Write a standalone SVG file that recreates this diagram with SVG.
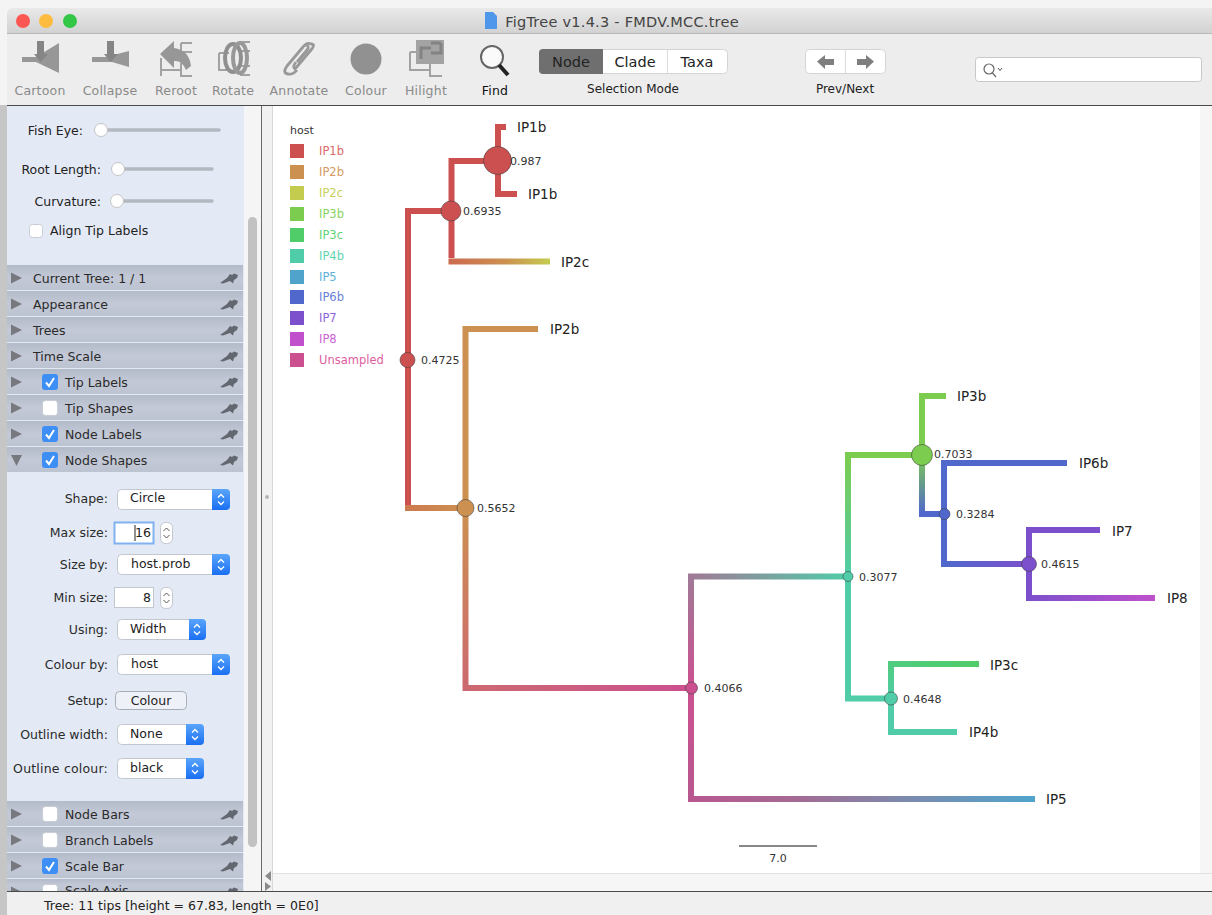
<svg xmlns="http://www.w3.org/2000/svg" width="1212" height="915" viewBox="0 0 1212 915">
<style>
text{font-family:"DejaVu Sans","Liberation Sans",sans-serif}
.tb{font-size:12.5px;fill:#8a8a8a;text-anchor:middle;letter-spacing:.2px}
.seg{font-size:14.5px;fill:#222;text-anchor:middle}
.sm{font-size:12px;fill:#222;text-anchor:middle}
.lab{font-size:12.5px;fill:#2a2a2a;text-anchor:end}
.val{font-size:12.5px;fill:#222}
.hd{font-size:12.5px;fill:#2a2a2a}
.tip{font-size:13.5px;fill:#222}
.nl{font-size:11px;fill:#333}
.leg{font-size:11.5px}
.b{fill:none;stroke-width:6;stroke-linejoin:miter;stroke-linecap:butt}
.n{stroke:#3c3c3c;stroke-opacity:.55;stroke-width:1}
.ic{fill:#979797}
.icl{fill:none;stroke:#a2a2a2;stroke-width:2}
.pop{fill:#fff;stroke:#c2c6ce;stroke-width:1}
.cap{fill:url(#blue)}
.tri{fill:#77797f}
.pin{fill:#63676f}
.cb{fill:#fff;stroke:#c8ccd4}
.cbon{fill:#3d8ef5}
.ck{fill:none;stroke:#fff;stroke-width:2}
.chev{fill:none;stroke:#fff;stroke-width:1.3}
.chevd{fill:none;stroke:#555;stroke-width:1}
.track{stroke:#b4b8c0;stroke-width:3.5;stroke-linecap:round}
.thumb{fill:#fff;stroke:#c4c4c4}
</style>
<defs>
<linearGradient id="title" x1="0" y1="0" x2="0" y2="1"><stop offset="0" stop-color="#e9e9e9"/><stop offset="1" stop-color="#d2d2d2"/></linearGradient>
<linearGradient id="hdr" x1="0" y1="0" x2="0" y2="1"><stop offset="0" stop-color="#b3bac9"/><stop offset=".5" stop-color="#c3c9d6"/><stop offset="1" stop-color="#bcc3d1"/></linearGradient>
<linearGradient id="blue" x1="0" y1="0" x2="0" y2="1"><stop offset="0" stop-color="#5aa5fb"/><stop offset="1" stop-color="#1a6ff2"/></linearGradient>
<linearGradient id="g2c" gradientUnits="userSpaceOnUse" x1="449" y1="0" x2="550" y2="0"><stop offset="0" stop-color="#cc6a50"/><stop offset=".55" stop-color="#cc9050"/><stop offset="1" stop-color="#c4cc50"/></linearGradient>
<linearGradient id="gAh" gradientUnits="userSpaceOnUse" x1="405" y1="0" x2="465" y2="0"><stop offset="0" stop-color="#cc7a50"/><stop offset="1" stop-color="#cc9050"/></linearGradient>
<linearGradient id="gOv" gradientUnits="userSpaceOnUse" x1="0" y1="508" x2="0" y2="688"><stop offset="0" stop-color="#cc9050"/><stop offset="1" stop-color="#cc6a70"/></linearGradient>
<linearGradient id="gOh" gradientUnits="userSpaceOnUse" x1="463" y1="0" x2="691" y2="0"><stop offset="0" stop-color="#cc6a70"/><stop offset="1" stop-color="#cc5090"/></linearGradient>
<linearGradient id="gUv" gradientUnits="userSpaceOnUse" x1="0" y1="688" x2="0" y2="576"><stop offset="0" stop-color="#cc5090"/><stop offset="1" stop-color="#a07a96"/></linearGradient>
<linearGradient id="gUh" gradientUnits="userSpaceOnUse" x1="691" y1="0" x2="848" y2="0"><stop offset="0" stop-color="#a07a96"/><stop offset="1" stop-color="#50cca8"/></linearGradient>
<linearGradient id="g5v" gradientUnits="userSpaceOnUse" x1="0" y1="688" x2="0" y2="799"><stop offset="0" stop-color="#cc5090"/><stop offset="1" stop-color="#b8588f"/></linearGradient>
<linearGradient id="g5h" gradientUnits="userSpaceOnUse" x1="691" y1="0" x2="1035" y2="0"><stop offset="0" stop-color="#b8588f"/><stop offset=".3" stop-color="#a56a93"/><stop offset=".6" stop-color="#7f88ab"/><stop offset="1" stop-color="#50a4cc"/></linearGradient>
<linearGradient id="gTv" gradientUnits="userSpaceOnUse" x1="0" y1="576" x2="0" y2="455"><stop offset="0" stop-color="#50cca8"/><stop offset="1" stop-color="#7ccc50"/></linearGradient>
<linearGradient id="gGv" gradientUnits="userSpaceOnUse" x1="0" y1="455" x2="0" y2="514"><stop offset="0" stop-color="#7ccc50"/><stop offset="1" stop-color="#5068cc"/></linearGradient>
<linearGradient id="gBh" gradientUnits="userSpaceOnUse" x1="944" y1="0" x2="1029" y2="0"><stop offset="0" stop-color="#5068cc"/><stop offset="1" stop-color="#7c50cc"/></linearGradient>
<linearGradient id="g8h" gradientUnits="userSpaceOnUse" x1="1029" y1="0" x2="1155" y2="0"><stop offset="0" stop-color="#7c50cc"/><stop offset="1" stop-color="#c050cc"/></linearGradient>
<linearGradient id="g3c" gradientUnits="userSpaceOnUse" x1="0" y1="698" x2="0" y2="664"><stop offset="0" stop-color="#50cca8"/><stop offset="1" stop-color="#50cc80"/></linearGradient>
<linearGradient id="g3ch" gradientUnits="userSpaceOnUse" x1="891" y1="0" x2="979" y2="0"><stop offset="0" stop-color="#50cc80"/><stop offset="1" stop-color="#50cc68"/></linearGradient>
<path id="pin" class="pin" d="M0 5 L7 0 L10 -4 L12 -3 L14 -4.500 L18 -3 L17 0 L14 2 L13 5.500 L10 3 L3 5.500Z"/>
<path id="chev" class="chev" d="M-3 -2 L0 -5 L3 -2 M-3 2 L0 5 L3 2"/>
<path id="chevd" class="chevd" d="M-3 -2 L0 -5 L3 -2 M-3 2 L0 5 L3 2"/>
<path id="right" class="tri" d="M0 -5.500 L11 0 L0 5.500Z"/>
<path id="check" class="ck" d="M-4 0.500 L-1 4 L4 -4"/>
</defs>

<g id="window">
<rect width="1212" height="915" fill="#f4f4f4"/>
<rect x="0" y="105" width="7" height="810" fill="#c6c6c6"/>
<path d="M7 33 V14 Q7 8 13 8 H1212 V33Z" fill="url(#title)"/>
<rect x="7" y="33" width="1205" height="72" fill="#ededed"/>
<line x1="7" y1="33.500" x2="1212" y2="33.500" stroke="#b8b8b8"/>
<rect x="7" y="106" width="237" height="785" fill="#e4eaf5"/>
<rect x="244" y="106" width="17" height="785" fill="#f5f5f5"/>
<rect x="262" y="106" width="11" height="785" fill="#f1f1f1"/>
<rect x="273" y="106" width="927" height="767" fill="#fff"/>
<rect x="1200" y="106" width="12" height="785" fill="#f6f6f6"/>
<rect x="273" y="874" width="939" height="17" fill="#f6f6f6"/>
<line x1="273" y1="873.500" x2="1212" y2="873.500" stroke="#e2e2e2"/>
<line x1="7" y1="105.500" x2="1212" y2="105.500" stroke="#4a4a4a"/>
<line x1="261.500" y1="106" x2="261.500" y2="891" stroke="#6a6a6a"/>
<line x1="272.500" y1="106" x2="272.500" y2="891" stroke="#d8d8d8"/>
<rect x="248" y="217" width="9" height="630" rx="4.500" fill="#c2c2c2"/>
<circle cx="267" cy="497" r="2" fill="#b5b5b5"/>
<path d="M271 871 L265 876 L271 881Z M265 882 L271 886.500 L265 891Z" fill="#8a8a8a"/>
<rect x="7" y="892" width="1205" height="23" fill="#f0f0f0"/>
<line x1="7" y1="891.500" x2="1212" y2="891.500" stroke="#4a4a4a"/>
</g>

<g id="titlebar">
<circle cx="23" cy="21" r="7" fill="#fc5753"/>
<circle cx="46" cy="21" r="7" fill="#fdbc40"/>
<circle cx="70" cy="21" r="7" fill="#33c748"/>
<path d="M485 12 H493 L497 16 V29 H485Z" fill="#4f97ea"/>
<text x="622" y="27" font-size="14.500" fill="#444" text-anchor="middle" letter-spacing=".25">FigTree v1.4.3 - FMDV.MCC.tree</text>
</g>

<g id="toolbar">
<g id="btn-cartoon"><path class="ic" d="M22 57 H36 L59 43 V73 L36 62 H22 Z"/><path class="ic" style="fill:#858585" d="M37 41 H44 V54 H48 L40.500 62 L34 54 H37Z"/><text class="tb" x="40" y="95">Cartoon</text></g>
<g id="btn-collapse"><path class="ic" d="M92 57 H106 L129 51 V67 L112 62 H92 Z"/><path class="ic" style="fill:#858585" d="M107 41 H114 V54 H118 L110.500 62 L104 54 H107Z"/><text class="tb" x="110" y="95">Collapse</text></g>
<g id="btn-reroot"><path class="icl" d="M161 76 V58 M161 70 H181 M181 63 V76 H192 M181 43 H192 M181 43 V52 H192"/><path class="ic" d="M160 54 L174 41 V48 Q189 50 191 66 L186 70 Q182 60 174 61 V68Z"/><text class="tb" x="176" y="95">Reroot</text></g>
<g id="btn-rotate"><path class="icl" d="M219 53 V70 H231 M219 53 H229 M240 42 H250 M240 51 H250 M240 75 H250 M240 66 H250"/><ellipse cx="233" cy="58" rx="8" ry="14" fill="none" stroke="#8f8f8f" stroke-width="4"/><ellipse cx="240" cy="58" rx="7" ry="15" fill="none" stroke="#989898" stroke-width="4"/><text class="tb" x="233" y="95">Rotate</text></g>
<g id="btn-annotate"><path d="M297 62 L307 50 Q310 46 306 45 M296 62 Q292 67 295 69 L311 50 Q316 44 311 44 Q307 42 303 47 L287 66 Q282 73 288 74 Q293 75 297 70" fill="none" stroke="#999" stroke-width="2.800" stroke-linejoin="round"/><text class="tb" x="299" y="95">Annotate</text></g>
<g id="btn-colour"><circle cx="366" cy="59" r="15.500" fill="#919191"/><text class="tb" x="366" y="95">Colour</text></g>
<g id="btn-hilight"><path class="icl" d="M410 52 V70 H430 M430 64 V76 H442 M420 52 H410"/><rect x="416" y="40" width="28" height="24" fill="#a3a3a3"/><path d="M421 59 V48 H431 M431 43 H441 M431 53 H441 V43" fill="none" stroke="#838383" stroke-width="3"/><text class="tb" x="426" y="95">Hilight</text></g>
<g id="btn-find"><circle cx="492" cy="57" r="11" fill="#fafafa" stroke="#666" stroke-width="2"/><path d="M499 65 L508 75" stroke="#222" stroke-width="4"/><text class="tb" x="495" y="95" style="fill:#111">Find</text></g>
<g id="selection-mode">
<rect x="539.500" y="49.500" width="188" height="24" rx="4" fill="#fff" stroke="#d4d4d4"/>
<path d="M543 49 H603 V74 H543 Q539 74 539 70 V53 Q539 49 543 49Z" fill="#6f6f6f"/>
<line x1="667.500" y1="50" x2="667.500" y2="73" stroke="#dcdcdc"/>
<text class="seg" x="571" y="67">Node</text><text class="seg" x="635" y="67">Clade</text><text class="seg" x="697" y="67">Taxa</text>
<text class="sm" x="633" y="93">Selection Mode</text>
</g>
<g id="prev-next">
<rect x="805.500" y="49.500" width="80" height="24" rx="4" fill="#fff" stroke="#d4d4d4"/>
<line x1="845.500" y1="50" x2="845.500" y2="73" stroke="#dcdcdc"/>
<path d="M817 61.500 L825 55 V59 H834 V65 H825 V69Z M874 61.500 L866 55 V59 H857 V65 H866 V69Z" fill="#7f7f7f"/>
<text class="sm" x="845" y="93">Prev/Next</text>
</g>
<g id="search">
<rect x="975.500" y="57.500" width="226" height="24" rx="3" fill="#fff" stroke="#c8c8c8"/>
<circle cx="989" cy="69" r="5" fill="none" stroke="#666" stroke-width="1.200"/><path d="M992.500 73 L996 77" stroke="#666" stroke-width="1.200"/><path d="M998 68 L1000 70.500 L1002 68" class="chevd"/>
</g>
</g>

<g id="panel">
<g id="sliders">
<text class="val" x="83" y="135" text-anchor="end">Fish Eye:</text>
<line class="track" x1="100" y1="130" x2="219" y2="130"/><circle class="thumb" cx="101" cy="130" r="6.500"/>
<text class="val" x="101" y="174" text-anchor="end">Root Length:</text>
<line class="track" x1="118" y1="169" x2="212" y2="169"/><circle class="thumb" cx="118" cy="169" r="6.500"/>
<text class="val" x="101" y="206" text-anchor="end">Curvature:</text>
<line class="track" x1="117" y1="201" x2="212" y2="201"/><circle class="thumb" cx="117" cy="201" r="6.500"/>
<rect class="cb" x="29.500" y="224.500" width="13" height="13" rx="3"/>
<text class="val" x="50" y="235">Align Tip Labels</text>
</g>
<g id="section-headers">
<rect x="7" y="265" width="236" height="25" fill="url(#hdr)"/><rect x="7" y="291" width="236" height="25" fill="url(#hdr)"/><rect x="7" y="317" width="236" height="25" fill="url(#hdr)"/><rect x="7" y="343" width="236" height="25" fill="url(#hdr)"/><rect x="7" y="369" width="236" height="25" fill="url(#hdr)"/><rect x="7" y="395" width="236" height="25" fill="url(#hdr)"/><rect x="7" y="421" width="236" height="25" fill="url(#hdr)"/><rect x="7" y="447" width="236" height="25" fill="url(#hdr)"/>
<rect x="7" y="801" width="236" height="25" fill="url(#hdr)"/><rect x="7" y="827" width="236" height="25" fill="url(#hdr)"/><rect x="7" y="853" width="236" height="25" fill="url(#hdr)"/><rect x="7" y="879" width="236" height="12" fill="url(#hdr)"/>
<g><use href="#right" x="11" y="278"/><use href="#right" x="11" y="304"/><use href="#right" x="11" y="330"/><use href="#right" x="11" y="356"/><use href="#right" x="11" y="382"/><use href="#right" x="11" y="408"/><use href="#right" x="11" y="434"/><path class="tri" d="M11 455 H22 L16.500 466Z"/><use href="#right" x="11" y="814"/><use href="#right" x="11" y="840"/><use href="#right" x="11" y="866"/></g>
<g><use href="#pin" x="220" y="278"/><use href="#pin" x="220" y="304"/><use href="#pin" x="220" y="330"/><use href="#pin" x="220" y="356"/><use href="#pin" x="220" y="382"/><use href="#pin" x="220" y="408"/><use href="#pin" x="220" y="434"/><use href="#pin" x="220" y="460"/><use href="#pin" x="220" y="814"/><use href="#pin" x="220" y="840"/><use href="#pin" x="220" y="866"/></g>
<text class="hd" x="33" y="283">Current Tree: 1 / 1</text>
<text class="hd" x="33" y="309">Appearance</text>
<text class="hd" x="33" y="335">Trees</text>
<text class="hd" x="33" y="361">Time Scale</text>
<rect class="cbon" x="42" y="374" width="16" height="16" rx="3"/><use href="#check" x="50" y="382"/><text class="hd" x="65" y="387">Tip Labels</text>
<rect class="cb" x="42.500" y="400.500" width="15" height="15" rx="3"/><text class="hd" x="65" y="413">Tip Shapes</text>
<rect class="cbon" x="42" y="426" width="16" height="16" rx="3"/><use href="#check" x="50" y="434"/><text class="hd" x="65" y="439">Node Labels</text>
<rect class="cbon" x="42" y="452" width="16" height="16" rx="3"/><use href="#check" x="50" y="460"/><text class="hd" x="65" y="465">Node Shapes</text>
<rect class="cb" x="42.500" y="806.500" width="15" height="15" rx="3"/><text class="hd" x="65" y="819">Node Bars</text>
<rect class="cb" x="42.500" y="832.500" width="15" height="15" rx="3"/><text class="hd" x="65" y="845">Branch Labels</text>
<rect class="cbon" x="42" y="858" width="16" height="16" rx="3"/><use href="#check" x="50" y="866"/><text class="hd" x="65" y="871">Scale Bar</text>
<svg x="0" y="879" width="244" height="12"><rect class="cb" x="42.500" y="5.500" width="15" height="15" rx="3"/><text class="hd" x="65" y="16">Scale Axis</text><use href="#right" x="11" y="13"/><use href="#pin" x="220" y="13"/></svg>
</g>
<g id="node-shape-form">
<text class="lab" x="108" y="503">Shape:</text>
<rect class="pop" x="117.500" y="489.500" width="112" height="20" rx="4"/><path class="cap" d="M212 489 H226 Q230 489 230 493 V506 Q230 510 226 510 H212Z"/><use href="#chev" x="221" y="499.500"/><text class="val" x="130" y="502">Circle</text>
<text class="lab" x="108" y="537">Max size:</text>
<rect x="114.500" y="522.500" width="39" height="21" fill="#fff" stroke="#7fb2ee" stroke-width="2"/><line x1="135" y1="525" x2="135" y2="541" stroke="#222"/><text class="val" x="151" y="537" text-anchor="end">16</text>
<rect class="pop" x="160.500" y="522.500" width="12" height="21" rx="5"/><use href="#chevd" x="166.500" y="533"/>
<text class="lab" x="108" y="569">Size by:</text>
<rect class="pop" x="117.500" y="554.500" width="112" height="20" rx="4"/><path class="cap" d="M212 554 H226 Q230 554 230 558 V571 Q230 575 226 575 H212Z"/><use href="#chev" x="221" y="564.500"/><text class="val" x="131" y="568">host.prob</text>
<text class="lab" x="108" y="602">Min size:</text>
<rect x="114.500" y="587.500" width="39" height="20" fill="#fff" stroke="#c2c6ce"/><text class="val" x="151" y="602" text-anchor="end">8</text>
<rect class="pop" x="160.500" y="587.500" width="12" height="21" rx="5"/><use href="#chevd" x="166.500" y="598"/>
<text class="lab" x="108" y="634">Using:</text>
<rect class="pop" x="117.500" y="619.500" width="88" height="20" rx="4"/><path class="cap" d="M189 619 H202 Q206 619 206 623 V636 Q206 640 202 640 H189Z"/><use href="#chev" x="197" y="629.500"/><text class="val" x="130" y="633">Width</text>
<text class="lab" x="108" y="669">Colour by:</text>
<rect class="pop" x="117.500" y="654.500" width="112" height="20" rx="4"/><path class="cap" d="M212 654 H226 Q230 654 230 658 V671 Q230 675 226 675 H212Z"/><use href="#chev" x="221" y="664.500"/><text class="val" x="131" y="668">host</text>
<text class="lab" x="108" y="705">Setup:</text>
<rect x="115.500" y="691.500" width="71" height="18" rx="4" fill="#eef1f7" stroke="#a9adb5"/><text class="val" x="151" y="705" text-anchor="middle">Colour</text>
<text class="lab" x="108" y="739">Outline width:</text>
<rect class="pop" x="117.500" y="724.500" width="86" height="20" rx="4"/><path class="cap" d="M186 724 H200 Q204 724 204 728 V741 Q204 745 200 745 H186Z"/><use href="#chev" x="195" y="734.500"/><text class="val" x="130" y="738">None</text>
<text class="lab" x="108" y="773" letter-spacing=".2">Outline colour:</text>
<rect class="pop" x="117.500" y="758.500" width="86" height="20" rx="4"/><path class="cap" d="M186 758 H200 Q204 758 204 762 V775 Q204 779 200 779 H186Z"/><use href="#chev" x="195" y="768.500"/><text class="val" x="130" y="772">black</text>
</g>
</g>

<text id="status" x="44" y="910" font-size="12.500" fill="#222">Tree: 11 tips [height = 67.83, length = 0E0]</text>

<g id="legend">
<text x="290" y="134" font-size="11" fill="#333">host</text>
<rect x="290" y="144" width="14" height="14" fill="#cc5050"/><text class="leg" x="319" y="155" fill="#d96a6a">IP1b</text>
<rect x="290" y="165" width="14" height="14" fill="#cc9050"/><text class="leg" x="319" y="176" fill="#d49a62">IP2b</text>
<rect x="290" y="186" width="14" height="14" fill="#c4cc50"/><text class="leg" x="319" y="197" fill="#c8d060">IP2c</text>
<rect x="290" y="207" width="14" height="14" fill="#7ccc50"/><text class="leg" x="319" y="218" fill="#88d462">IP3b</text>
<rect x="290" y="228" width="14" height="14" fill="#50cc68"/><text class="leg" x="319" y="239" fill="#60d478">IP3c</text>
<rect x="290" y="249" width="14" height="14" fill="#50cca8"/><text class="leg" x="319" y="260" fill="#60d4b0">IP4b</text>
<rect x="290" y="270" width="14" height="14" fill="#50a4cc"/><text class="leg" x="319" y="281" fill="#60b0d8">IP5</text>
<rect x="290" y="290" width="14" height="14" fill="#5068cc"/><text class="leg" x="319" y="301" fill="#6a80d8">IP6b</text>
<rect x="290" y="311" width="14" height="14" fill="#7c50cc"/><text class="leg" x="319" y="322" fill="#8c64d8">IP7</text>
<rect x="290" y="332" width="14" height="14" fill="#c050cc"/><text class="leg" x="319" y="343" fill="#c864d4">IP8</text>
<rect x="290" y="353" width="14" height="14" fill="#cc5090"/><text class="leg" x="319" y="364" fill="#dc60a0">Unsampled</text>
</g>

<g id="connectors">
<path class="b" stroke="#cc5050" d="M506 127 H498 V161 H451.500 V211 H408 V508"/>
<path class="b" stroke="#cc5050" d="M498 161 V194 H517"/>
<path class="b" stroke="#cc5050" d="M451.500 211 V258"/>
<path class="b" stroke="url(#g2c)" d="M448.500 261.500 H550"/>
<path class="b" stroke="url(#gAh)" d="M405 508 H465.500"/>
<path class="b" stroke="#cc9050" d="M538 329 H465.500 V508"/>
<path class="b" stroke="url(#gOv)" d="M465.500 508 V685"/>
<path class="b" stroke="url(#gOh)" d="M462.500 688 H691"/>
<path class="b" stroke="url(#gUv)" d="M691 688 V579"/>
<path class="b" stroke="url(#gUh)" d="M688 576.500 H848"/>
<path class="b" stroke="url(#g5v)" d="M691 688 V796"/>
<path class="b" stroke="url(#g5h)" d="M688 799 H1035"/>
<path class="b" stroke="url(#gTv)" d="M848 576.500 V458"/>
<path class="b" stroke="#7ccc50" d="M845 455 H922"/>
<path class="b" stroke="#50cca8" d="M848 576.500 V698.500 H891"/>
<path class="b" stroke="url(#g3c)" d="M891 698.500 V667"/>
<path class="b" stroke="url(#g3ch)" d="M888 664 H979"/>
<path class="b" stroke="#50cca8" d="M891 698.500 V732 H957"/>
<path class="b" stroke="#7ccc50" d="M946 396 H922 V455"/>
<path class="b" stroke="url(#gGv)" d="M922 455 V511"/>
<path class="b" stroke="#5068cc" d="M919 514 H944"/>
<path class="b" stroke="#5068cc" d="M1067 463 H944 V561"/>
<path class="b" stroke="url(#gBh)" d="M941 564 H1029"/>
<path class="b" stroke="#7c50cc" d="M1100 530 H1029 V595"/>
<path class="b" stroke="url(#g8h)" d="M1026 598 H1155"/>
</g>

<g id="node-c"><circle class="n" cx="497.500" cy="160.500" r="14" fill="#cc5050"/><text class="nl" x="510" y="165">0.987</text></g>
<g id="node-b"><circle class="n" cx="451" cy="211" r="10" fill="#cc5050"/><text class="nl" x="463" y="215">0.6935</text></g>
<g id="node-a"><circle class="n" cx="407.500" cy="360" r="7.500" fill="#cc5050"/><text class="nl" x="421" y="364">0.4725</text></g>
<g id="node-d"><circle class="n" cx="465.500" cy="508" r="8.500" fill="#cc9050"/><text class="nl" x="477" y="512">0.5652</text></g>
<g id="node-e"><circle class="n" cx="691.500" cy="688" r="6" fill="#cc5090"/><text class="nl" x="704" y="692">0.4066</text></g>
<g id="node-f"><circle class="n" cx="848" cy="576.500" r="5" fill="#50cca8"/><text class="nl" x="859" y="581">0.3077</text></g>
<g id="node-g"><circle class="n" cx="922" cy="455" r="10.500" fill="#7ccc50"/><text class="nl" x="934" y="458">0.7033</text></g>
<g id="node-h"><circle class="n" cx="944.500" cy="514" r="5.500" fill="#5068cc"/><text class="nl" x="956" y="518">0.3284</text></g>
<g id="node-i"><circle class="n" cx="1029" cy="564" r="7.500" fill="#7c50cc"/><text class="nl" x="1041" y="568">0.4615</text></g>
<g id="node-j"><circle class="n" cx="891" cy="698.500" r="6.500" fill="#50cca8"/><text class="nl" x="903" y="703">0.4648</text></g>

<g id="tips">
<text class="tip" x="517" y="132">IP1b</text>
<text class="tip" x="528" y="199">IP1b</text>
<text class="tip" x="561" y="267">IP2c</text>
<text class="tip" x="550" y="334">IP2b</text>
<text class="tip" x="957" y="401">IP3b</text>
<text class="tip" x="1079" y="468">IP6b</text>
<text class="tip" x="1112" y="536">IP7</text>
<text class="tip" x="1167" y="603">IP8</text>
<text class="tip" x="990" y="670">IP3c</text>
<text class="tip" x="969" y="737">IP4b</text>
<text class="tip" x="1046" y="804">IP5</text>
</g>

<g id="scale-bar">
<line x1="739" y1="846" x2="817" y2="846" stroke="#111" stroke-width="1.200"/>
<text x="778" y="862" font-size="11" fill="#333" text-anchor="middle">7.0</text>
</g>
</svg>
